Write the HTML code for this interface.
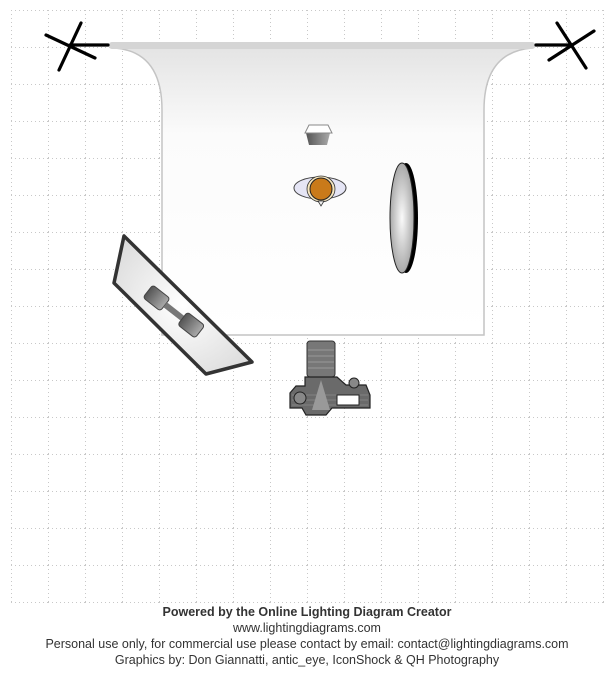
<!DOCTYPE html>
<html><head><style>
html,body{margin:0;padding:0;background:#fff;width:614px;height:674px;overflow:hidden}
.t{position:absolute;left:0;width:614px;text-align:center;font-family:"Liberation Sans",sans-serif;font-size:12.5px;color:#333}
</style></head><body>
<svg width="614" height="674" style="position:absolute;left:0;top:0">
<defs>
<pattern id="g" x="11" y="10" width="37" height="37" patternUnits="userSpaceOnUse">
<path d="M0.5 0V37M0 0.5H37" stroke="#c8c8c8" stroke-width="1" stroke-dasharray="1,3" fill="none"/>
</pattern>
<linearGradient id="bg" x1="0" y1="0" x2="0" y2="1"><stop offset="0" stop-color="#e4e4e4"/><stop offset="0.3" stop-color="#fbfbfb"/><stop offset="1" stop-color="#fff"/></linearGradient>
<radialGradient id="rf" cx="0.5" cy="0.5" r="0.6"><stop offset="0" stop-color="#fafafa"/><stop offset="1" stop-color="#999"/></radialGradient>
<radialGradient id="sb" cx="0.5" cy="0.5" r="0.6"><stop offset="0" stop-color="#fff"/><stop offset="1" stop-color="#ddd"/></radialGradient>
<linearGradient id="hd" x1="0" y1="0" x2="1" y2="0"><stop offset="0" stop-color="#555"/><stop offset="1" stop-color="#aaa"/></linearGradient>
</defs>
<rect x="11" y="10" width="593" height="593" fill="url(#g)"/>
<path d="M115 48 Q162 52 162 110 L162 335 L484 335 L484 110 Q484 52 532 48 Z" fill="url(#bg)" stroke="#c4c4c4" stroke-width="1.5"/>
<line x1="112" y1="45.5" x2="532" y2="45.5" stroke="#d5d5d5" stroke-width="7" stroke-linecap="round"/>
<g stroke="#000" stroke-width="3.2" stroke-linecap="round">
<line x1="70" y1="45" x2="108" y2="45"/>
<line x1="46" y1="35" x2="95" y2="58"/>
<line x1="81" y1="23" x2="59" y2="70"/>
<line x1="536" y1="45" x2="572" y2="45"/>
<line x1="549" y1="60" x2="594" y2="31"/>
<line x1="557" y1="23" x2="586" y2="68"/>
</g>
<polygon points="124,236 114,283 206,374 252,362" fill="url(#sb)" stroke="#333" stroke-width="3.5" stroke-linejoin="round"/>
<g transform="rotate(38 177 314)">
<rect x="140" y="306" width="22" height="16" rx="3" fill="url(#hd)" stroke="#444"/>
<rect x="162" y="311" width="22" height="6" fill="#777"/>
<rect x="184" y="306" width="22" height="16" rx="3" fill="url(#hd)" stroke="#444"/>
</g>
<polygon points="306,133 330,133 327,145 309,145" fill="url(#hd)"/>
<polygon points="309,125 328,125 332,133 305,133" fill="#fff" stroke="#888" stroke-width="1"/>
<ellipse cx="320" cy="188" rx="26" ry="11" fill="#e5e5f5" stroke="#444" stroke-width="1"/>
<ellipse cx="321" cy="189" rx="14" ry="13" fill="#f5e6c0" stroke="#333" stroke-width="0.8"/>
<circle cx="321" cy="189" r="11" fill="#c97a1a" stroke="#222" stroke-width="1"/>
<path d="M318 201 L321 206 L324 201Z" fill="#eee" stroke="#333" stroke-width="0.8"/>
<ellipse cx="406" cy="218" rx="12" ry="55" fill="#000"/>
<ellipse cx="402" cy="218" rx="12" ry="55" fill="url(#rf)" stroke="#222" stroke-width="1"/>
<rect x="307" y="341" width="28" height="36" rx="3" fill="#777" stroke="#333"/>
<g stroke="#999" stroke-width="1"><line x1="308" y1="350" x2="334" y2="350"/><line x1="308" y1="356" x2="334" y2="356"/><line x1="308" y1="362" x2="334" y2="362"/><line x1="308" y1="368" x2="334" y2="368"/></g>
<path d="M305 377 H337 L346 385 H366 L370 395 V408 H332 L326 415 H306 L302 408 H290 V393 L296 386 H305Z" fill="#6a6a6a" stroke="#222" stroke-width="1.2"/>
<g stroke="#999" stroke-width="0.6"><line x1="292" y1="395" x2="368" y2="395"/><line x1="292" y1="400" x2="368" y2="400"/><line x1="292" y1="405" x2="368" y2="405"/></g>
<circle cx="300" cy="398" r="6" fill="#888" stroke="#222"/>
<circle cx="354" cy="383" r="5" fill="#888" stroke="#222"/>
<rect x="337" y="395" width="22" height="10" fill="#fff" stroke="#222"/>
<path d="M312 410 L321 380 L330 410Z" fill="#999"/>
</svg>
<div class="t" style="top:605px;font-weight:bold">Powered by the Online Lighting Diagram Creator</div>
<div class="t" style="top:621px">www.lightingdiagrams.com</div>
<div class="t" style="top:637px">Personal use only, for commercial use please contact by email: contact@lightingdiagrams.com</div>
<div class="t" style="top:653px">Graphics by: Don Giannatti, antic_eye, IconShock &amp; QH Photography</div>
</body></html>
